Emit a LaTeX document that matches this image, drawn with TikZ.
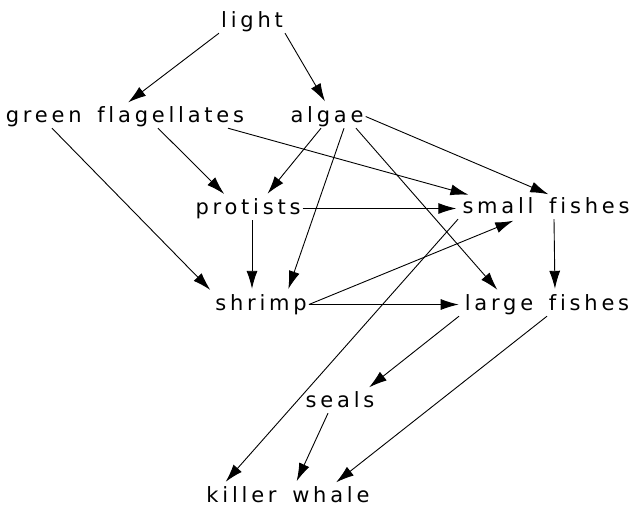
\documentclass[tikz,border=0pt]{standalone}
\usepackage{fontspec}
\setmainfont{DejaVu Sans}[LetterSpace=18, WordSpace=1.5, Ligatures=NoCommon]
\usetikzlibrary{arrows.meta}

\begin{document}
\begin{tikzpicture}[
  x=1pt, y=-1pt,
  every node/.style={font=\fontsize{21}{24}\selectfont},
  organism/.style={inner sep=2pt, text height=15pt, text depth=4pt, anchor=base},
  feeds/.style={-{Latex[length=18pt,width=11pt]}, line width=0.9pt, shorten >=4pt}
]
\useasboundingbox (0,0) rectangle (642,507);

% Organisms
\node[organism] (light) at (252,27) {light};
\node[organism] (flag) at (125,122) {green flagellates};
\node[organism] (algae) at (327,122) {algae};
\node[organism] (protists) at (248,214) {protists};
\node[organism] (small) at (546,213) {small fishes};
\node[organism] (shrimp) at (261,310) {shrimp};
\node[organism] (large) at (547,310) {large fishes};
\node[organism] (seals) at (340,407) {seals};
\node[organism] (whale) at (288,502) {killer whale};

% Light
\draw[feeds] (light.south west) -- (flag.north);
\draw[feeds] (light.south east) -- (algae.north);

% Green flagellates
\draw[feeds] ([xshift=-73pt]flag.south) -- (shrimp.north west);
\draw[feeds] ([xshift=33pt]flag.south) -- ([xshift=-21pt]protists.north);
\draw[feeds] ([xshift=103pt]flag.south) -- ([xshift=12pt]small.north west);

% Algae
\draw[feeds] ([xshift=-6pt]algae.south) -- ([xshift=17pt]protists.north);
\draw[feeds] ([xshift=17pt]algae.south) -- ([xshift=26pt]shrimp.north);
\draw[feeds] ([xshift=29pt]algae.south) -- ([xshift=-47pt]large.north);
\draw[feeds] (algae.east) -- ([xshift=6pt]small.north);

% Protists and shrimp
\draw[feeds] (protists.east) -- (protists.east -| small.west);
\draw[feeds] ([xshift=4pt]protists.south) -- ([xshift=4pt]protists.south |- shrimp.north);
\draw[feeds] (shrimp.east) -- ([xshift=-29pt]small.south);
\draw[feeds] (shrimp.east) -- (large.west);

% Fishes
\draw[feeds] ([xshift=8pt]small.south) -- ([xshift=8pt]large.north);
\draw[feeds] ([xshift=-88pt]small.south) -- ([xshift=-65pt]whale.north);
\draw[feeds] ([xshift=-88pt]large.south) -- ([xshift=26pt]seals.north);
\draw[feeds] (large.south) -- ([xshift=45pt]whale.north);

% Seals
\draw[feeds] ([xshift=-12pt]seals.south) -- ([xshift=7pt]whale.north);
\end{tikzpicture}
\end{document}
